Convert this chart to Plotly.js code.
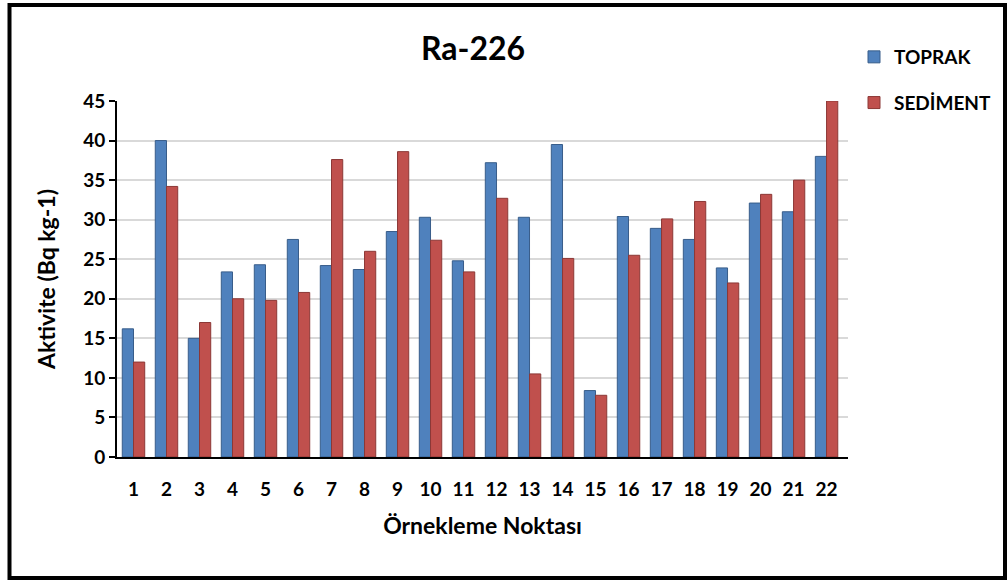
<!DOCTYPE html>
<html>
<head>
<meta charset="utf-8">
<script src="https://cdn.plot.ly/plotly-3.0.1.min.js"></script>
<style>html,body{margin:0;padding:0;background:#fff;}#chart{width:1008px;height:581px;}</style>
</head>
<body>
<div id="chart"></div>
<script>
const categories = ["1","2","3","4","5","6","7","8","9","10","11","12","13","14","15","16","17","18","19","20","21","22"];
const toprak = [16.2,40.0,15.0,23.4,24.3,27.5,24.2,23.7,28.5,30.3,24.8,37.2,30.3,39.5,8.4,30.4,28.9,27.5,23.9,32.1,31.0,38.0];
const sediment = [12.0,34.2,17.0,20.0,19.8,20.8,37.6,26.0,38.6,27.4,23.4,32.7,10.5,25.1,7.8,25.5,30.1,32.3,22.0,33.2,35.0,45.0];
const yTicks = [0,5,10,15,20,25,30,35,40,45];

const FONT = "Lato, 'Open Sans', sans-serif";

const traces = [
  {type:"bar", name:"TOPRAK", x:categories, y:toprak, legendgroup:"a",
   marker:{color:"#4F81BD", line:{color:"#385D8A", width:1}}},
  {type:"bar", name:"SEDİMENT", x:categories, y:sediment, legendgroup:"b",
   marker:{color:"#C0504D", line:{color:"#8C3836", width:1}}}
];

const layout = {
  width:1008, height:581,
  margin:{l:117, r:160, t:101, b:124},
  paper_bgcolor:"#fff", plot_bgcolor:"#fff",
  font:{family:FONT, color:"#000", weight:"bold"},
  bargap:0.32, bargroupgap:0,
  title:{text:"Ra-226", font:{size:32, family:FONT, color:"#000", weight:"bold"},
         xref:"paper", x:0.487, xanchor:"center", yref:"container", y:1-49/581, yanchor:"middle"},
  xaxis:{type:"category", range:[-0.5,21.65], showgrid:false, zeroline:false,
         showline:true, linecolor:"#000", linewidth:2,
         ticks:"outside", ticklen:14, tickcolor:"rgba(0,0,0,0)",
         tickfont:{size:19, family:FONT, color:"#000", weight:"bold"},
         title:{text:"Örnekleme Noktası", font:{size:23, family:FONT, color:"#000", weight:"bold"}, standoff:19}},
  yaxis:{range:[0,45], tickvals:yTicks,
         showgrid:true, gridcolor:"#d9d9d9", gridwidth:2, zeroline:false,
         showline:true, linecolor:"#000", linewidth:2,
         ticks:"outside", ticklen:6, tickcolor:"#000", tickwidth:2,
         tickfont:{size:19, family:FONT, color:"#000", weight:"bold"},
         title:{text:"Aktivite (Bq kg-1)", font:{size:23, family:FONT, color:"#000", weight:"bold"}, standoff:21}},
  legend:{x:1.0+6/731, xanchor:"left", y:(457-38)/356, yanchor:"top", bgcolor:"rgba(0,0,0,0)",
          font:{size:19, family:FONT, color:"#000", weight:"bold"}, itemwidth:30, tracegroupgap:18},
  shapes:[{type:"rect", xref:"paper", yref:"paper",
           x0:(9.5-117)/731, x1:(1005-117)/731, y0:(457-578)/356, y1:(457-5)/356,
           line:{color:"#000", width:4}, fillcolor:"rgba(0,0,0,0)", layer:"above"}]
};

Plotly.newPlot("chart", traces, layout, {displayModeBar:false, staticPlot:true});
</script>
</body>
</html>
